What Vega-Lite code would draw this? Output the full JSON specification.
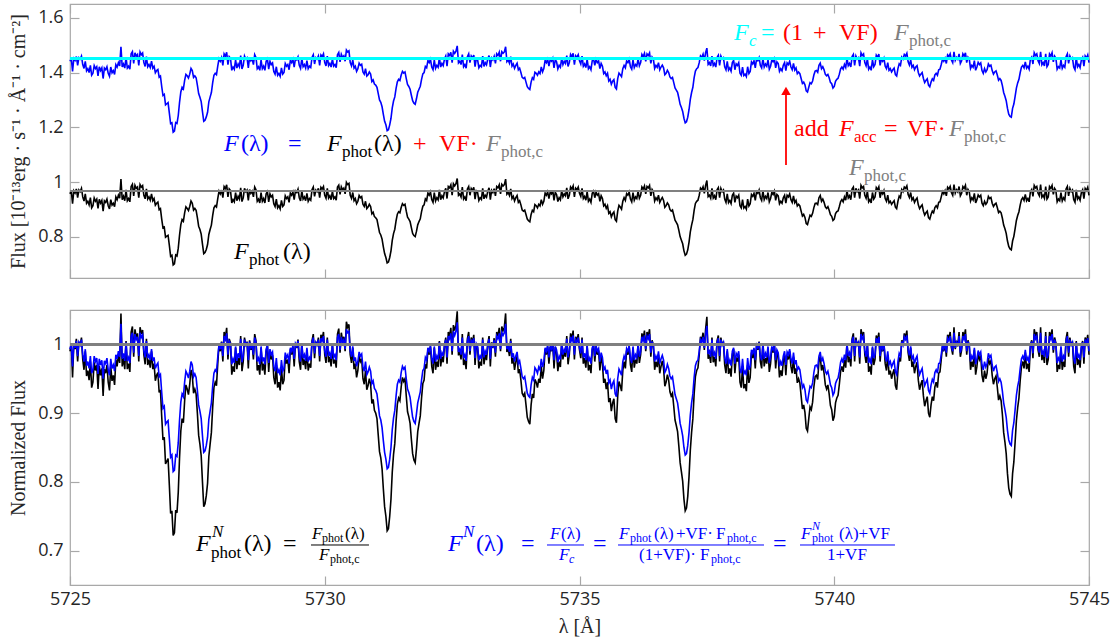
{
  "$schema": "https://vega.github.io/schema/vega-lite/v6.json",
  "padding": {"left": 8, "top": 2, "right": 0, "bottom": 0},
  "background": "white",
  "spacing": 27,
  "config": {
    "view": {"stroke": "#a8a8a8", "strokeWidth": 1.2},
    "axis": {
      "domain": false, "grid": false, "ticks": true, "tickSize": -9, "tickColor": "#a8a8a8", "tickWidth": 1.2,
      "labelFont": "Open Sans", "labelFontSize": 18, "labelColor": "#262626", "labelPadding": 16,
      "labelFlush": false, "labelOverlap": false,
      "titleFont": "Liberation Serif", "titleFontSize": 20, "titleFontWeight": "normal", "titleColor": "#262626"
    }
  },
  "datasets": {
    "spec": [
      {"x":5725,"p":0.957,"f":1.441,"n":0.99,"m":0.993},{"x":5725.025,"p":0.969,"f":1.452,"n":1.002,"m":1.001},{"x":5725.05,"p":0.921,"f":1.404,"n":0.952,"m":0.968},{"x":5725.075,"p":0.968,"f":1.451,"n":1.001,"m":1.001},
      {"x":5725.1,"p":0.96,"f":1.444,"n":0.993,"m":0.995},{"x":5725.125,"p":0.975,"f":1.458,"n":1.008,"m":1.005},{"x":5725.15,"p":0.943,"f":1.426,"n":0.975,"m":0.983},{"x":5725.175,"p":0.971,"f":1.454,"n":1.004,"m":1.003},
      {"x":5725.2,"p":0.965,"f":1.449,"n":0.998,"m":0.999},{"x":5725.225,"p":0.977,"f":1.46,"n":1.01,"m":1.007},{"x":5725.25,"p":0.946,"f":1.429,"n":0.978,"m":0.985},{"x":5725.275,"p":0.931,"f":1.415,"n":0.963,"m":0.975},
      {"x":5725.3,"p":0.957,"f":1.441,"n":0.99,"m":0.993},{"x":5725.325,"p":0.923,"f":1.406,"n":0.954,"m":0.969},{"x":5725.35,"p":0.93,"f":1.414,"n":0.962,"m":0.975},{"x":5725.375,"p":0.917,"f":1.4,"n":0.948,"m":0.965},
      {"x":5725.4,"p":0.943,"f":1.426,"n":0.975,"m":0.983},{"x":5725.425,"p":0.906,"f":1.39,"n":0.937,"m":0.958},{"x":5725.45,"p":0.914,"f":1.397,"n":0.945,"m":0.963},{"x":5725.475,"p":0.942,"f":1.425,"n":0.974,"m":0.983},
      {"x":5725.5,"p":0.93,"f":1.414,"n":0.962,"m":0.975},{"x":5725.525,"p":0.938,"f":1.421,"n":0.97,"m":0.98},{"x":5725.55,"p":0.904,"f":1.388,"n":0.935,"m":0.957},{"x":5725.575,"p":0.937,"f":1.421,"n":0.969,"m":0.979},
      {"x":5725.6,"p":0.923,"f":1.407,"n":0.955,"m":0.97},{"x":5725.625,"p":0.933,"f":1.417,"n":0.965,"m":0.977},{"x":5725.65,"p":0.894,"f":1.378,"n":0.925,"m":0.95},{"x":5725.675,"p":0.932,"f":1.416,"n":0.964,"m":0.976},
      {"x":5725.7,"p":0.926,"f":1.41,"n":0.958,"m":0.972},{"x":5725.725,"p":0.938,"f":1.421,"n":0.97,"m":0.98},{"x":5725.75,"p":0.914,"f":1.397,"n":0.945,"m":0.963},{"x":5725.775,"p":0.902,"f":1.386,"n":0.933,"m":0.955},
      {"x":5725.8,"p":0.936,"f":1.42,"n":0.968,"m":0.979},{"x":5725.825,"p":0.916,"f":1.399,"n":0.947,"m":0.965},{"x":5725.85,"p":0.923,"f":1.407,"n":0.955,"m":0.97},{"x":5725.875,"p":0.91,"f":1.393,"n":0.941,"m":0.961},
      {"x":5725.9,"p":0.946,"f":1.429,"n":0.978,"m":0.985},{"x":5725.925,"p":0.936,"f":1.42,"n":0.968,"m":0.979},{"x":5725.95,"p":0.952,"f":1.436,"n":0.985,"m":0.99},{"x":5725.975,"p":0.941,"f":1.424,"n":0.973,"m":0.982},
      {"x":5726,"p":1.011,"f":1.494,"n":1.045,"m":1.03},{"x":5726.025,"p":0.936,"f":1.42,"n":0.968,"m":0.979},{"x":5726.05,"p":0.948,"f":1.431,"n":0.98,"m":0.987},{"x":5726.075,"p":0.932,"f":1.416,"n":0.964,"m":0.976},
      {"x":5726.1,"p":0.972,"f":1.455,"n":1.005,"m":1.003},{"x":5726.125,"p":0.932,"f":1.416,"n":0.964,"m":0.976},{"x":5726.15,"p":0.94,"f":1.423,"n":0.972,"m":0.981},{"x":5726.175,"p":0.928,"f":1.412,"n":0.96,"m":0.973},
      {"x":5726.2,"p":0.984,"f":1.468,"n":1.018,"m":1.012},{"x":5726.225,"p":0.992,"f":1.476,"n":1.026,"m":1.017},{"x":5726.25,"p":0.95,"f":1.433,"n":0.982,"m":0.988},{"x":5726.275,"p":0.988,"f":1.472,"n":1.022,"m":1.015},
      {"x":5726.3,"p":0.977,"f":1.46,"n":1.01,"m":1.007},{"x":5726.325,"p":0.982,"f":1.466,"n":1.016,"m":1.011},{"x":5726.35,"p":0.943,"f":1.426,"n":0.975,"m":0.983},{"x":5726.375,"p":0.991,"f":1.475,"n":1.025,"m":1.017},
      {"x":5726.4,"p":0.982,"f":1.465,"n":1.015,"m":1.01},{"x":5726.425,"p":0.987,"f":1.471,"n":1.021,"m":1.014},{"x":5726.45,"p":0.952,"f":1.436,"n":0.985,"m":0.99},{"x":5726.475,"p":0.939,"f":1.422,"n":0.971,"m":0.981},
      {"x":5726.5,"p":0.975,"f":1.458,"n":1.008,"m":1.005},{"x":5726.525,"p":0.938,"f":1.421,"n":0.97,"m":0.98},{"x":5726.55,"p":0.946,"f":1.429,"n":0.978,"m":0.985},{"x":5726.575,"p":0.934,"f":1.418,"n":0.966,"m":0.977},
      {"x":5726.6,"p":0.957,"f":1.441,"n":0.99,"m":0.993},{"x":5726.625,"p":0.932,"f":1.416,"n":0.964,"m":0.976},{"x":5726.65,"p":0.94,"f":1.423,"n":0.972,"m":0.981},{"x":5726.675,"p":0.916,"f":1.399,"n":0.947,"m":0.965},
      {"x":5726.7,"p":0.923,"f":1.407,"n":0.955,"m":0.97},{"x":5726.725,"p":0.927,"f":1.411,"n":0.959,"m":0.973},{"x":5726.75,"p":0.899,"f":1.383,"n":0.93,"m":0.953},{"x":5726.775,"p":0.903,"f":1.387,"n":0.934,"m":0.956},
      {"x":5726.8,"p":0.865,"f":1.349,"n":0.895,"m":0.93},{"x":5726.825,"p":0.833,"f":1.316,"n":0.861,"m":0.907},{"x":5726.85,"p":0.836,"f":1.32,"n":0.865,"m":0.91},{"x":5726.875,"p":0.799,"f":1.282,"n":0.826,"m":0.884},
      {"x":5726.9,"p":0.803,"f":1.286,"n":0.83,"m":0.887},{"x":5726.925,"p":0.806,"f":1.29,"n":0.834,"m":0.889},{"x":5726.95,"p":0.769,"f":1.252,"n":0.795,"m":0.863},{"x":5726.975,"p":0.729,"f":1.213,"n":0.754,"m":0.836},
      {"x":5727,"p":0.733,"f":1.216,"n":0.758,"m":0.839},{"x":5727.025,"p":0.698,"f":1.182,"n":0.722,"m":0.815},{"x":5727.05,"p":0.702,"f":1.186,"n":0.726,"m":0.817},{"x":5727.075,"p":0.734,"f":1.217,"n":0.759,"m":0.839},
      {"x":5727.1,"p":0.73,"f":1.214,"n":0.755,"m":0.837},{"x":5727.125,"p":0.759,"f":1.243,"n":0.785,"m":0.857},{"x":5727.15,"p":0.807,"f":1.291,"n":0.835,"m":0.89},{"x":5727.175,"p":0.845,"f":1.329,"n":0.874,"m":0.916},
      {"x":5727.2,"p":0.863,"f":1.346,"n":0.892,"m":0.928},{"x":5727.225,"p":0.857,"f":1.34,"n":0.886,"m":0.924},{"x":5727.25,"p":0.888,"f":1.371,"n":0.918,"m":0.945},{"x":5727.275,"p":0.91,"f":1.393,"n":0.941,"m":0.961},
      {"x":5727.3,"p":0.904,"f":1.388,"n":0.935,"m":0.957},{"x":5727.325,"p":0.896,"f":1.38,"n":0.927,"m":0.951},{"x":5727.35,"p":0.911,"f":1.394,"n":0.942,"m":0.961},{"x":5727.375,"p":0.931,"f":1.415,"n":0.963,"m":0.975},
      {"x":5727.4,"p":0.923,"f":1.407,"n":0.955,"m":0.97},{"x":5727.425,"p":0.898,"f":1.382,"n":0.929,"m":0.953},{"x":5727.45,"p":0.904,"f":1.388,"n":0.935,"m":0.957},{"x":5727.475,"p":0.897,"f":1.381,"n":0.928,"m":0.952},
      {"x":5727.5,"p":0.87,"f":1.354,"n":0.9,"m":0.933},{"x":5727.525,"p":0.839,"f":1.323,"n":0.868,"m":0.912},{"x":5727.55,"p":0.827,"f":1.31,"n":0.855,"m":0.903},{"x":5727.575,"p":0.81,"f":1.294,"n":0.838,"m":0.892},
      {"x":5727.6,"p":0.774,"f":1.257,"n":0.8,"m":0.867},{"x":5727.625,"p":0.739,"f":1.222,"n":0.764,"m":0.843},{"x":5727.65,"p":0.743,"f":1.226,"n":0.768,"m":0.845},{"x":5727.675,"p":0.754,"f":1.238,"n":0.78,"m":0.853},
      {"x":5727.7,"p":0.772,"f":1.255,"n":0.798,"m":0.865},{"x":5727.725,"p":0.809,"f":1.293,"n":0.837,"m":0.891},{"x":5727.75,"p":0.827,"f":1.31,"n":0.855,"m":0.903},{"x":5727.775,"p":0.843,"f":1.327,"n":0.872,"m":0.915},
      {"x":5727.8,"p":0.878,"f":1.362,"n":0.908,"m":0.939},{"x":5727.825,"p":0.906,"f":1.39,"n":0.937,"m":0.958},{"x":5727.85,"p":0.914,"f":1.397,"n":0.945,"m":0.963},{"x":5727.875,"p":0.909,"f":1.392,"n":0.94,"m":0.96},
      {"x":5727.9,"p":0.94,"f":1.423,"n":0.972,"m":0.981},{"x":5727.925,"p":0.967,"f":1.45,"n":1,"m":1},{"x":5727.95,"p":0.957,"f":1.441,"n":0.99,"m":0.993},{"x":5727.975,"p":0.971,"f":1.454,"n":1.004,"m":1.003},
      {"x":5728,"p":0.943,"f":1.426,"n":0.975,"m":0.983},{"x":5728.025,"p":0.984,"f":1.468,"n":1.018,"m":1.012},{"x":5728.05,"p":0.977,"f":1.46,"n":1.01,"m":1.007},{"x":5728.075,"p":0.99,"f":1.474,"n":1.024,"m":1.016},
      {"x":5728.1,"p":0.946,"f":1.429,"n":0.978,"m":0.985},{"x":5728.125,"p":0.975,"f":1.458,"n":1.008,"m":1.005},{"x":5728.15,"p":0.969,"f":1.452,"n":1.002,"m":1.001},{"x":5728.175,"p":0.924,"f":1.408,"n":0.956,"m":0.971},
      {"x":5728.2,"p":0.936,"f":1.42,"n":0.968,"m":0.979},{"x":5728.225,"p":0.928,"f":1.412,"n":0.96,"m":0.973},{"x":5728.25,"p":0.962,"f":1.446,"n":0.995,"m":0.997},{"x":5728.275,"p":0.932,"f":1.416,"n":0.964,"m":0.976},
      {"x":5728.3,"p":0.948,"f":1.431,"n":0.98,"m":0.987},{"x":5728.325,"p":0.938,"f":1.421,"n":0.97,"m":0.98},{"x":5728.35,"p":0.979,"f":1.462,"n":1.012,"m":1.008},{"x":5728.375,"p":0.929,"f":1.413,"n":0.961,"m":0.974},
      {"x":5728.4,"p":0.943,"f":1.426,"n":0.975,"m":0.983},{"x":5728.425,"p":0.977,"f":1.46,"n":1.01,"m":1.007},{"x":5728.45,"p":0.965,"f":1.449,"n":0.998,"m":0.999},{"x":5728.475,"p":0.971,"f":1.454,"n":1.004,"m":1.003},
      {"x":5728.5,"p":0.933,"f":1.417,"n":0.965,"m":0.977},{"x":5728.525,"p":0.973,"f":1.456,"n":1.006,"m":1.004},{"x":5728.55,"p":0.959,"f":1.443,"n":0.992,"m":0.995},{"x":5728.575,"p":0.967,"f":1.45,"n":1,"m":1},
      {"x":5728.6,"p":0.946,"f":1.429,"n":0.978,"m":0.985},{"x":5728.625,"p":0.982,"f":1.465,"n":1.015,"m":1.01},{"x":5728.65,"p":0.972,"f":1.455,"n":1.005,"m":1.003},{"x":5728.675,"p":0.93,"f":1.414,"n":0.962,"m":0.975},
      {"x":5728.7,"p":0.938,"f":1.421,"n":0.97,"m":0.98},{"x":5728.725,"p":0.924,"f":1.408,"n":0.956,"m":0.971},{"x":5728.75,"p":0.962,"f":1.446,"n":0.995,"m":0.997},{"x":5728.775,"p":0.93,"f":1.414,"n":0.962,"m":0.975},
      {"x":5728.8,"p":0.94,"f":1.423,"n":0.972,"m":0.981},{"x":5728.825,"p":0.924,"f":1.408,"n":0.956,"m":0.971},{"x":5728.85,"p":0.957,"f":1.441,"n":0.99,"m":0.993},{"x":5728.875,"p":0.965,"f":1.449,"n":0.998,"m":0.999},
      {"x":5728.9,"p":0.928,"f":1.412,"n":0.96,"m":0.973},{"x":5728.925,"p":0.957,"f":1.441,"n":0.99,"m":0.993},{"x":5728.95,"p":0.946,"f":1.429,"n":0.978,"m":0.985},{"x":5728.975,"p":0.952,"f":1.435,"n":0.984,"m":0.989},
      {"x":5729,"p":0.921,"f":1.404,"n":0.952,"m":0.968},{"x":5729.025,"p":0.911,"f":1.394,"n":0.942,"m":0.961},{"x":5729.05,"p":0.938,"f":1.421,"n":0.97,"m":0.98},{"x":5729.075,"p":0.906,"f":1.39,"n":0.937,"m":0.958},
      {"x":5729.1,"p":0.914,"f":1.397,"n":0.945,"m":0.963},{"x":5729.125,"p":0.902,"f":1.386,"n":0.933,"m":0.955},{"x":5729.15,"p":0.933,"f":1.417,"n":0.965,"m":0.977},{"x":5729.175,"p":0.911,"f":1.394,"n":0.942,"m":0.961},
      {"x":5729.2,"p":0.917,"f":1.4,"n":0.948,"m":0.965},{"x":5729.225,"p":0.95,"f":1.433,"n":0.982,"m":0.988},{"x":5729.25,"p":0.94,"f":1.423,"n":0.972,"m":0.981},{"x":5729.275,"p":0.946,"f":1.429,"n":0.978,"m":0.985},
      {"x":5729.3,"p":0.926,"f":1.41,"n":0.958,"m":0.972},{"x":5729.325,"p":0.96,"f":1.444,"n":0.993,"m":0.995},{"x":5729.35,"p":0.952,"f":1.436,"n":0.985,"m":0.99},{"x":5729.375,"p":0.964,"f":1.448,"n":0.997,"m":0.998},
      {"x":5729.4,"p":0.936,"f":1.42,"n":0.968,"m":0.979},{"x":5729.425,"p":0.968,"f":1.451,"n":1.001,"m":1.001},{"x":5729.45,"p":0.962,"f":1.446,"n":0.995,"m":0.997},{"x":5729.475,"p":0.974,"f":1.457,"n":1.007,"m":1.005},
      {"x":5729.5,"p":0.943,"f":1.426,"n":0.975,"m":0.983},{"x":5729.525,"p":0.931,"f":1.415,"n":0.963,"m":0.975},{"x":5729.55,"p":0.969,"f":1.452,"n":1.002,"m":1.001},{"x":5729.575,"p":0.938,"f":1.421,"n":0.97,"m":0.98},
      {"x":5729.6,"p":0.946,"f":1.429,"n":0.978,"m":0.985},{"x":5729.625,"p":0.932,"f":1.416,"n":0.964,"m":0.976},{"x":5729.65,"p":0.959,"f":1.443,"n":0.992,"m":0.995},{"x":5729.675,"p":0.93,"f":1.414,"n":0.962,"m":0.975},
      {"x":5729.7,"p":0.94,"f":1.423,"n":0.972,"m":0.981},{"x":5729.725,"p":0.934,"f":1.418,"n":0.966,"m":0.977},{"x":5729.75,"p":0.972,"f":1.455,"n":1.005,"m":1.003},{"x":5729.775,"p":0.982,"f":1.465,"n":1.015,"m":1.01},
      {"x":5729.8,"p":0.948,"f":1.431,"n":0.98,"m":0.987},{"x":5729.825,"p":0.971,"f":1.454,"n":1.004,"m":1.003},{"x":5729.85,"p":0.965,"f":1.449,"n":0.998,"m":0.999},{"x":5729.875,"p":0.977,"f":1.46,"n":1.01,"m":1.007},
      {"x":5729.9,"p":0.943,"f":1.426,"n":0.975,"m":0.983},{"x":5729.925,"p":0.981,"f":1.464,"n":1.014,"m":1.009},{"x":5729.95,"p":0.975,"f":1.458,"n":1.008,"m":1.005},{"x":5729.975,"p":0.984,"f":1.468,"n":1.018,"m":1.012},
      {"x":5730,"p":0.952,"f":1.436,"n":0.985,"m":0.99},{"x":5730.025,"p":0.941,"f":1.424,"n":0.973,"m":0.982},{"x":5730.05,"p":0.977,"f":1.46,"n":1.01,"m":1.007},{"x":5730.075,"p":0.942,"f":1.425,"n":0.974,"m":0.983},
      {"x":5730.1,"p":0.95,"f":1.433,"n":0.982,"m":0.988},{"x":5730.125,"p":0.936,"f":1.42,"n":0.968,"m":0.979},{"x":5730.15,"p":0.967,"f":1.45,"n":1,"m":1},{"x":5730.175,"p":0.94,"f":1.423,"n":0.972,"m":0.981},
      {"x":5730.2,"p":0.946,"f":1.429,"n":0.978,"m":0.985},{"x":5730.225,"p":0.934,"f":1.418,"n":0.966,"m":0.977},{"x":5730.25,"p":0.982,"f":1.465,"n":1.015,"m":1.01},{"x":5730.275,"p":0.989,"f":1.473,"n":1.023,"m":1.015},
      {"x":5730.3,"p":0.955,"f":1.439,"n":0.988,"m":0.992},{"x":5730.325,"p":0.983,"f":1.467,"n":1.017,"m":1.011},{"x":5730.35,"p":0.972,"f":1.455,"n":1.005,"m":1.003},{"x":5730.375,"p":0.978,"f":1.461,"n":1.011,"m":1.007},
      {"x":5730.4,"p":0.957,"f":1.441,"n":0.99,"m":0.993},{"x":5730.425,"p":0.999,"f":1.482,"n":1.033,"m":1.022},{"x":5730.45,"p":0.991,"f":1.475,"n":1.025,"m":1.017},{"x":5730.475,"p":0.995,"f":1.479,"n":1.029,"m":1.019},
      {"x":5730.5,"p":0.952,"f":1.436,"n":0.985,"m":0.99},{"x":5730.525,"p":0.941,"f":1.424,"n":0.973,"m":0.982},{"x":5730.55,"p":0.962,"f":1.446,"n":0.995,"m":0.997},{"x":5730.575,"p":0.932,"f":1.416,"n":0.964,"m":0.976},
      {"x":5730.6,"p":0.94,"f":1.423,"n":0.972,"m":0.981},{"x":5730.625,"p":0.921,"f":1.404,"n":0.952,"m":0.968},{"x":5730.65,"p":0.93,"f":1.414,"n":0.962,"m":0.975},{"x":5730.675,"p":0.951,"f":1.434,"n":0.983,"m":0.989},
      {"x":5730.7,"p":0.943,"f":1.426,"n":0.975,"m":0.983},{"x":5730.725,"p":0.947,"f":1.43,"n":0.979,"m":0.986},{"x":5730.75,"p":0.919,"f":1.402,"n":0.95,"m":0.967},{"x":5730.775,"p":0.911,"f":1.394,"n":0.942,"m":0.961},
      {"x":5730.8,"p":0.93,"f":1.414,"n":0.962,"m":0.975},{"x":5730.825,"p":0.903,"f":1.387,"n":0.934,"m":0.956},{"x":5730.85,"p":0.909,"f":1.392,"n":0.94,"m":0.96},{"x":5730.875,"p":0.919,"f":1.402,"n":0.95,"m":0.967},
      {"x":5730.9,"p":0.911,"f":1.394,"n":0.942,"m":0.961},{"x":5730.925,"p":0.884,"f":1.367,"n":0.914,"m":0.943},{"x":5730.95,"p":0.89,"f":1.373,"n":0.92,"m":0.947},{"x":5730.975,"p":0.874,"f":1.358,"n":0.904,"m":0.936},
      {"x":5731,"p":0.87,"f":1.354,"n":0.9,"m":0.933},{"x":5731.025,"p":0.863,"f":1.346,"n":0.892,"m":0.928},{"x":5731.05,"p":0.839,"f":1.323,"n":0.868,"m":0.912},{"x":5731.075,"p":0.816,"f":1.3,"n":0.844,"m":0.896},
      {"x":5731.1,"p":0.807,"f":1.291,"n":0.835,"m":0.89},{"x":5731.125,"p":0.792,"f":1.275,"n":0.819,"m":0.879},{"x":5731.15,"p":0.764,"f":1.247,"n":0.79,"m":0.86},{"x":5731.175,"p":0.739,"f":1.222,"n":0.764,"m":0.843},
      {"x":5731.2,"p":0.725,"f":1.209,"n":0.75,"m":0.833},{"x":5731.225,"p":0.705,"f":1.188,"n":0.729,"m":0.819},{"x":5731.25,"p":0.708,"f":1.191,"n":0.732,"m":0.821},{"x":5731.275,"p":0.725,"f":1.209,"n":0.75,"m":0.833},
      {"x":5731.3,"p":0.749,"f":1.233,"n":0.775,"m":0.85},{"x":5731.325,"p":0.787,"f":1.271,"n":0.814,"m":0.876},{"x":5731.35,"p":0.812,"f":1.296,"n":0.84,"m":0.893},{"x":5731.375,"p":0.828,"f":1.311,"n":0.856,"m":0.904},
      {"x":5731.4,"p":0.859,"f":1.342,"n":0.888,"m":0.925},{"x":5731.425,"p":0.883,"f":1.366,"n":0.913,"m":0.942},{"x":5731.45,"p":0.892,"f":1.375,"n":0.922,"m":0.948},{"x":5731.475,"p":0.888,"f":1.371,"n":0.918,"m":0.945},
      {"x":5731.5,"p":0.907,"f":1.391,"n":0.938,"m":0.959},{"x":5731.525,"p":0.921,"f":1.404,"n":0.952,"m":0.968},{"x":5731.55,"p":0.915,"f":1.398,"n":0.946,"m":0.964},{"x":5731.575,"p":0.919,"f":1.402,"n":0.95,"m":0.967},
      {"x":5731.6,"p":0.894,"f":1.378,"n":0.925,"m":0.95},{"x":5731.625,"p":0.872,"f":1.356,"n":0.902,"m":0.935},{"x":5731.65,"p":0.865,"f":1.349,"n":0.895,"m":0.93},{"x":5731.675,"p":0.856,"f":1.339,"n":0.885,"m":0.923},
      {"x":5731.7,"p":0.834,"f":1.317,"n":0.862,"m":0.908},{"x":5731.725,"p":0.813,"f":1.297,"n":0.841,"m":0.894},{"x":5731.75,"p":0.805,"f":1.288,"n":0.832,"m":0.888},{"x":5731.775,"p":0.801,"f":1.284,"n":0.828,"m":0.885},
      {"x":5731.8,"p":0.82,"f":1.304,"n":0.848,"m":0.899},{"x":5731.825,"p":0.844,"f":1.328,"n":0.873,"m":0.915},{"x":5731.85,"p":0.856,"f":1.339,"n":0.885,"m":0.923},{"x":5731.875,"p":0.866,"f":1.35,"n":0.896,"m":0.931},
      {"x":5731.9,"p":0.892,"f":1.375,"n":0.922,"m":0.948},{"x":5731.925,"p":0.912,"f":1.395,"n":0.943,"m":0.962},{"x":5731.95,"p":0.917,"f":1.4,"n":0.948,"m":0.965},{"x":5731.975,"p":0.939,"f":1.422,"n":0.971,"m":0.981},
      {"x":5732,"p":0.933,"f":1.417,"n":0.965,"m":0.977},{"x":5732.025,"p":0.96,"f":1.444,"n":0.993,"m":0.995},{"x":5732.05,"p":0.952,"f":1.436,"n":0.985,"m":0.99},{"x":5732.075,"p":0.964,"f":1.448,"n":0.997,"m":0.998},
      {"x":5732.1,"p":0.936,"f":1.42,"n":0.968,"m":0.979},{"x":5732.125,"p":0.926,"f":1.41,"n":0.958,"m":0.972},{"x":5732.15,"p":0.962,"f":1.446,"n":0.995,"m":0.997},{"x":5732.175,"p":0.931,"f":1.415,"n":0.963,"m":0.975},
      {"x":5732.2,"p":0.943,"f":1.426,"n":0.975,"m":0.983},{"x":5732.225,"p":0.935,"f":1.419,"n":0.967,"m":0.978},{"x":5732.25,"p":0.972,"f":1.455,"n":1.005,"m":1.003},{"x":5732.275,"p":0.936,"f":1.42,"n":0.968,"m":0.979},
      {"x":5732.3,"p":0.95,"f":1.433,"n":0.982,"m":0.988},{"x":5732.325,"p":0.942,"f":1.425,"n":0.974,"m":0.983},{"x":5732.35,"p":0.965,"f":1.449,"n":0.998,"m":0.999},{"x":5732.375,"p":0.977,"f":1.46,"n":1.01,"m":1.007},
      {"x":5732.4,"p":0.94,"f":1.423,"n":0.972,"m":0.981},{"x":5732.425,"p":0.984,"f":1.468,"n":1.018,"m":1.012},{"x":5732.45,"p":0.979,"f":1.462,"n":1.012,"m":1.008},{"x":5732.475,"p":0.99,"f":1.474,"n":1.024,"m":1.016},
      {"x":5732.5,"p":0.952,"f":1.436,"n":0.985,"m":0.99},{"x":5732.525,"p":0.994,"f":1.478,"n":1.028,"m":1.019},{"x":5732.55,"p":0.986,"f":1.47,"n":1.02,"m":1.013},{"x":5732.575,"p":0.994,"f":1.478,"n":1.028,"m":1.019},
      {"x":5732.6,"p":1.013,"f":1.497,"n":1.048,"m":1.032},{"x":5732.625,"p":0.952,"f":1.435,"n":0.984,"m":0.989},{"x":5732.65,"p":0.957,"f":1.441,"n":0.99,"m":0.993},{"x":5732.675,"p":0.946,"f":1.429,"n":0.978,"m":0.985},
      {"x":5732.7,"p":0.982,"f":1.465,"n":1.015,"m":1.01},{"x":5732.725,"p":0.938,"f":1.421,"n":0.97,"m":0.98},{"x":5732.75,"p":0.946,"f":1.429,"n":0.978,"m":0.985},{"x":5732.775,"p":0.932,"f":1.416,"n":0.964,"m":0.976},
      {"x":5732.8,"p":0.975,"f":1.458,"n":1.008,"m":1.005},{"x":5732.825,"p":0.984,"f":1.468,"n":1.018,"m":1.012},{"x":5732.85,"p":0.952,"f":1.436,"n":0.985,"m":0.99},{"x":5732.875,"p":0.977,"f":1.46,"n":1.01,"m":1.007},
      {"x":5732.9,"p":0.969,"f":1.452,"n":1.002,"m":1.001},{"x":5732.925,"p":0.981,"f":1.464,"n":1.014,"m":1.009},{"x":5732.95,"p":0.938,"f":1.421,"n":0.97,"m":0.98},{"x":5732.975,"p":0.968,"f":1.451,"n":1.001,"m":1.001},
      {"x":5733,"p":0.962,"f":1.446,"n":0.995,"m":0.997},{"x":5733.025,"p":0.933,"f":1.417,"n":0.965,"m":0.977},{"x":5733.05,"p":0.943,"f":1.426,"n":0.975,"m":0.983},{"x":5733.075,"p":0.937,"f":1.421,"n":0.969,"m":0.979},
      {"x":5733.1,"p":0.977,"f":1.46,"n":1.01,"m":1.007},{"x":5733.125,"p":0.939,"f":1.422,"n":0.971,"m":0.981},{"x":5733.15,"p":0.952,"f":1.436,"n":0.985,"m":0.99},{"x":5733.175,"p":0.945,"f":1.428,"n":0.977,"m":0.985},
      {"x":5733.2,"p":0.967,"f":1.45,"n":1,"m":1},{"x":5733.225,"p":0.979,"f":1.462,"n":1.012,"m":1.008},{"x":5733.25,"p":0.936,"f":1.42,"n":0.968,"m":0.979},{"x":5733.275,"p":0.97,"f":1.453,"n":1.003,"m":1.002},
      {"x":5733.3,"p":0.962,"f":1.446,"n":0.995,"m":0.997},{"x":5733.325,"p":0.976,"f":1.459,"n":1.009,"m":1.006},{"x":5733.35,"p":0.95,"f":1.433,"n":0.982,"m":0.988},{"x":5733.375,"p":0.984,"f":1.468,"n":1.018,"m":1.012},
      {"x":5733.4,"p":0.979,"f":1.462,"n":1.012,"m":1.008},{"x":5733.425,"p":0.99,"f":1.474,"n":1.024,"m":1.016},{"x":5733.45,"p":0.957,"f":1.441,"n":0.99,"m":0.993},{"x":5733.475,"p":0.992,"f":1.476,"n":1.026,"m":1.017},
      {"x":5733.5,"p":0.986,"f":1.47,"n":1.02,"m":1.013},{"x":5733.525,"p":0.991,"f":1.475,"n":1.025,"m":1.017},{"x":5733.55,"p":1.011,"f":1.494,"n":1.045,"m":1.03},{"x":5733.575,"p":0.956,"f":1.44,"n":0.989,"m":0.993},
      {"x":5733.6,"p":0.962,"f":1.446,"n":0.995,"m":0.997},{"x":5733.625,"p":0.951,"f":1.434,"n":0.983,"m":0.989},{"x":5733.65,"p":0.975,"f":1.458,"n":1.008,"m":1.005},{"x":5733.675,"p":0.94,"f":1.423,"n":0.972,"m":0.981},
      {"x":5733.7,"p":0.948,"f":1.431,"n":0.98,"m":0.987},{"x":5733.725,"p":0.931,"f":1.415,"n":0.963,"m":0.975},{"x":5733.75,"p":0.943,"f":1.426,"n":0.975,"m":0.983},{"x":5733.775,"p":0.951,"f":1.434,"n":0.983,"m":0.989},
      {"x":5733.8,"p":0.926,"f":1.41,"n":0.958,"m":0.972},{"x":5733.825,"p":0.932,"f":1.416,"n":0.964,"m":0.976},{"x":5733.85,"p":0.917,"f":1.4,"n":0.948,"m":0.965},{"x":5733.875,"p":0.898,"f":1.382,"n":0.929,"m":0.953},
      {"x":5733.9,"p":0.894,"f":1.378,"n":0.925,"m":0.95},{"x":5733.925,"p":0.898,"f":1.382,"n":0.929,"m":0.953},{"x":5733.95,"p":0.882,"f":1.365,"n":0.912,"m":0.941},{"x":5733.975,"p":0.865,"f":1.348,"n":0.894,"m":0.929},
      {"x":5734,"p":0.859,"f":1.342,"n":0.888,"m":0.925},{"x":5734.025,"p":0.855,"f":1.338,"n":0.884,"m":0.923},{"x":5734.05,"p":0.882,"f":1.365,"n":0.912,"m":0.941},{"x":5734.075,"p":0.897,"f":1.381,"n":0.928,"m":0.952},
      {"x":5734.1,"p":0.892,"f":1.375,"n":0.922,"m":0.948},{"x":5734.125,"p":0.918,"f":1.401,"n":0.949,"m":0.966},{"x":5734.15,"p":0.914,"f":1.397,"n":0.945,"m":0.963},{"x":5734.175,"p":0.906,"f":1.39,"n":0.937,"m":0.958},
      {"x":5734.2,"p":0.919,"f":1.402,"n":0.95,"m":0.967},{"x":5734.225,"p":0.913,"f":1.396,"n":0.944,"m":0.963},{"x":5734.25,"p":0.936,"f":1.42,"n":0.968,"m":0.979},{"x":5734.275,"p":0.919,"f":1.402,"n":0.95,"m":0.967},
      {"x":5734.3,"p":0.93,"f":1.414,"n":0.962,"m":0.975},{"x":5734.325,"p":0.96,"f":1.444,"n":0.993,"m":0.995},{"x":5734.35,"p":0.952,"f":1.436,"n":0.985,"m":0.99},{"x":5734.375,"p":0.964,"f":1.448,"n":0.997,"m":0.998},
      {"x":5734.4,"p":0.94,"f":1.423,"n":0.972,"m":0.981},{"x":5734.425,"p":0.963,"f":1.447,"n":0.996,"m":0.997},{"x":5734.45,"p":0.957,"f":1.441,"n":0.99,"m":0.993},{"x":5734.475,"p":0.969,"f":1.452,"n":1.002,"m":1.001},
      {"x":5734.5,"p":0.933,"f":1.417,"n":0.965,"m":0.977},{"x":5734.525,"p":0.963,"f":1.447,"n":0.996,"m":0.997},{"x":5734.55,"p":0.955,"f":1.439,"n":0.988,"m":0.992},{"x":5734.575,"p":0.929,"f":1.413,"n":0.961,"m":0.974},
      {"x":5734.6,"p":0.943,"f":1.426,"n":0.975,"m":0.983},{"x":5734.625,"p":0.935,"f":1.419,"n":0.967,"m":0.978},{"x":5734.65,"p":0.969,"f":1.452,"n":1.002,"m":1.001},{"x":5734.675,"p":0.946,"f":1.429,"n":0.978,"m":0.985},
      {"x":5734.7,"p":0.957,"f":1.441,"n":0.99,"m":0.993},{"x":5734.725,"p":0.95,"f":1.433,"n":0.982,"m":0.988},{"x":5734.75,"p":0.979,"f":1.462,"n":1.012,"m":1.008},{"x":5734.775,"p":0.939,"f":1.422,"n":0.971,"m":0.981},
      {"x":5734.8,"p":0.952,"f":1.436,"n":0.985,"m":0.99},{"x":5734.825,"p":0.982,"f":1.466,"n":1.016,"m":1.011},{"x":5734.85,"p":0.975,"f":1.458,"n":1.008,"m":1.005},{"x":5734.875,"p":0.986,"f":1.47,"n":1.02,"m":1.013},
      {"x":5734.9,"p":0.946,"f":1.429,"n":0.978,"m":0.985},{"x":5734.925,"p":0.978,"f":1.461,"n":1.011,"m":1.007},{"x":5734.95,"p":0.972,"f":1.455,"n":1.005,"m":1.003},{"x":5734.975,"p":0.982,"f":1.465,"n":1.015,"m":1.01},
      {"x":5735,"p":0.959,"f":1.443,"n":0.992,"m":0.995},{"x":5735.025,"p":0.948,"f":1.431,"n":0.98,"m":0.987},{"x":5735.05,"p":0.977,"f":1.46,"n":1.01,"m":1.007},{"x":5735.075,"p":0.94,"f":1.423,"n":0.972,"m":0.981},
      {"x":5735.1,"p":0.948,"f":1.431,"n":0.98,"m":0.987},{"x":5735.125,"p":0.934,"f":1.418,"n":0.966,"m":0.977},{"x":5735.15,"p":0.965,"f":1.449,"n":0.998,"m":0.999},{"x":5735.175,"p":0.93,"f":1.414,"n":0.962,"m":0.975},
      {"x":5735.2,"p":0.938,"f":1.421,"n":0.97,"m":0.98},{"x":5735.225,"p":0.926,"f":1.41,"n":0.958,"m":0.972},{"x":5735.25,"p":0.959,"f":1.443,"n":0.992,"m":0.995},{"x":5735.275,"p":0.967,"f":1.45,"n":1,"m":1},
      {"x":5735.3,"p":0.943,"f":1.426,"n":0.975,"m":0.983},{"x":5735.325,"p":0.964,"f":1.448,"n":0.997,"m":0.998},{"x":5735.35,"p":0.952,"f":1.436,"n":0.985,"m":0.99},{"x":5735.375,"p":0.958,"f":1.442,"n":0.991,"m":0.994},
      {"x":5735.4,"p":0.93,"f":1.414,"n":0.962,"m":0.975},{"x":5735.425,"p":0.95,"f":1.433,"n":0.982,"m":0.988},{"x":5735.45,"p":0.94,"f":1.423,"n":0.972,"m":0.981},{"x":5735.475,"p":0.913,"f":1.396,"n":0.944,"m":0.963},
      {"x":5735.5,"p":0.919,"f":1.402,"n":0.95,"m":0.967},{"x":5735.525,"p":0.904,"f":1.388,"n":0.935,"m":0.957},{"x":5735.55,"p":0.914,"f":1.397,"n":0.945,"m":0.963},{"x":5735.575,"p":0.886,"f":1.369,"n":0.916,"m":0.944},
      {"x":5735.6,"p":0.892,"f":1.375,"n":0.922,"m":0.948},{"x":5735.625,"p":0.873,"f":1.357,"n":0.903,"m":0.935},{"x":5735.65,"p":0.885,"f":1.368,"n":0.915,"m":0.943},{"x":5735.675,"p":0.891,"f":1.374,"n":0.921,"m":0.947},
      {"x":5735.7,"p":0.863,"f":1.346,"n":0.892,"m":0.928},{"x":5735.725,"p":0.857,"f":1.34,"n":0.886,"m":0.924},{"x":5735.75,"p":0.894,"f":1.378,"n":0.925,"m":0.95},{"x":5735.775,"p":0.915,"f":1.398,"n":0.946,"m":0.964},
      {"x":5735.8,"p":0.909,"f":1.392,"n":0.94,"m":0.96},{"x":5735.825,"p":0.901,"f":1.385,"n":0.932,"m":0.955},{"x":5735.85,"p":0.93,"f":1.414,"n":0.962,"m":0.975},{"x":5735.875,"p":0.943,"f":1.426,"n":0.975,"m":0.983},
      {"x":5735.9,"p":0.933,"f":1.417,"n":0.965,"m":0.977},{"x":5735.925,"p":0.958,"f":1.442,"n":0.991,"m":0.994},{"x":5735.95,"p":0.952,"f":1.436,"n":0.985,"m":0.99},{"x":5735.975,"p":0.964,"f":1.448,"n":0.997,"m":0.998},
      {"x":5736,"p":0.938,"f":1.421,"n":0.97,"m":0.98},{"x":5736.025,"p":0.928,"f":1.412,"n":0.96,"m":0.973},{"x":5736.05,"p":0.962,"f":1.446,"n":0.995,"m":0.997},{"x":5736.075,"p":0.934,"f":1.418,"n":0.966,"m":0.977},
      {"x":5736.1,"p":0.946,"f":1.429,"n":0.978,"m":0.985},{"x":5736.125,"p":0.94,"f":1.423,"n":0.972,"m":0.981},{"x":5736.15,"p":0.967,"f":1.45,"n":1,"m":1},{"x":5736.175,"p":0.941,"f":1.424,"n":0.973,"m":0.982},
      {"x":5736.2,"p":0.952,"f":1.436,"n":0.985,"m":0.99},{"x":5736.225,"p":0.982,"f":1.466,"n":1.016,"m":1.011},{"x":5736.25,"p":0.975,"f":1.458,"n":1.008,"m":1.005},{"x":5736.275,"p":0.986,"f":1.47,"n":1.02,"m":1.013},
      {"x":5736.3,"p":0.957,"f":1.441,"n":0.99,"m":0.993},{"x":5736.325,"p":0.984,"f":1.468,"n":1.018,"m":1.012},{"x":5736.35,"p":0.979,"f":1.462,"n":1.012,"m":1.008},{"x":5736.375,"p":0.988,"f":1.472,"n":1.022,"m":1.015},
      {"x":5736.4,"p":0.95,"f":1.433,"n":0.982,"m":0.988},{"x":5736.425,"p":0.973,"f":1.456,"n":1.006,"m":1.004},{"x":5736.45,"p":0.965,"f":1.449,"n":0.998,"m":0.999},{"x":5736.475,"p":0.931,"f":1.415,"n":0.963,"m":0.975},
      {"x":5736.5,"p":0.943,"f":1.426,"n":0.975,"m":0.983},{"x":5736.525,"p":0.935,"f":1.419,"n":0.967,"m":0.978},{"x":5736.55,"p":0.952,"f":1.436,"n":0.985,"m":0.99},{"x":5736.575,"p":0.926,"f":1.41,"n":0.958,"m":0.972},
      {"x":5736.6,"p":0.936,"f":1.42,"n":0.968,"m":0.979},{"x":5736.625,"p":0.944,"f":1.427,"n":0.976,"m":0.984},{"x":5736.65,"p":0.933,"f":1.417,"n":0.965,"m":0.977},{"x":5736.675,"p":0.908,"f":1.392,"n":0.939,"m":0.959},
      {"x":5736.7,"p":0.914,"f":1.397,"n":0.945,"m":0.963},{"x":5736.725,"p":0.924,"f":1.408,"n":0.956,"m":0.971},{"x":5736.75,"p":0.917,"f":1.4,"n":0.948,"m":0.965},{"x":5736.775,"p":0.9,"f":1.384,"n":0.931,"m":0.954},
      {"x":5736.8,"p":0.894,"f":1.378,"n":0.925,"m":0.95},{"x":5736.825,"p":0.898,"f":1.382,"n":0.929,"m":0.953},{"x":5736.85,"p":0.88,"f":1.363,"n":0.91,"m":0.94},{"x":5736.875,"p":0.861,"f":1.344,"n":0.89,"m":0.927},
      {"x":5736.9,"p":0.853,"f":1.336,"n":0.882,"m":0.921},{"x":5736.925,"p":0.844,"f":1.328,"n":0.873,"m":0.915},{"x":5736.95,"p":0.824,"f":1.307,"n":0.852,"m":0.901},{"x":5736.975,"p":0.801,"f":1.284,"n":0.828,"m":0.885},
      {"x":5737,"p":0.788,"f":1.272,"n":0.815,"m":0.877},{"x":5737.025,"p":0.775,"f":1.258,"n":0.801,"m":0.867},{"x":5737.05,"p":0.749,"f":1.233,"n":0.775,"m":0.85},{"x":5737.075,"p":0.733,"f":1.216,"n":0.758,"m":0.839},
      {"x":5737.1,"p":0.737,"f":1.22,"n":0.762,"m":0.841},{"x":5737.125,"p":0.753,"f":1.237,"n":0.779,"m":0.853},{"x":5737.15,"p":0.781,"f":1.265,"n":0.808,"m":0.872},{"x":5737.175,"p":0.818,"f":1.302,"n":0.846,"m":0.897},
      {"x":5737.2,"p":0.843,"f":1.327,"n":0.872,"m":0.915},{"x":5737.225,"p":0.863,"f":1.346,"n":0.892,"m":0.928},{"x":5737.25,"p":0.897,"f":1.381,"n":0.928,"m":0.952},{"x":5737.275,"p":0.922,"f":1.405,"n":0.953,"m":0.969},
      {"x":5737.3,"p":0.93,"f":1.414,"n":0.962,"m":0.975},{"x":5737.325,"p":0.934,"f":1.418,"n":0.966,"m":0.977},{"x":5737.35,"p":0.952,"f":1.436,"n":0.985,"m":0.99},{"x":5737.375,"p":0.978,"f":1.461,"n":1.011,"m":1.007},
      {"x":5737.4,"p":0.972,"f":1.455,"n":1.005,"m":1.003},{"x":5737.425,"p":0.983,"f":1.467,"n":1.017,"m":1.011},{"x":5737.45,"p":0.959,"f":1.443,"n":0.992,"m":0.995},{"x":5737.475,"p":0.988,"f":1.472,"n":1.022,"m":1.015},
      {"x":5737.5,"p":1.006,"f":1.489,"n":1.04,"m":1.027},{"x":5737.525,"p":0.947,"f":1.43,"n":0.979,"m":0.986},{"x":5737.55,"p":0.952,"f":1.436,"n":0.985,"m":0.99},{"x":5737.575,"p":0.941,"f":1.424,"n":0.973,"m":0.982},
      {"x":5737.6,"p":0.977,"f":1.46,"n":1.01,"m":1.007},{"x":5737.625,"p":0.942,"f":1.425,"n":0.974,"m":0.983},{"x":5737.65,"p":0.95,"f":1.433,"n":0.982,"m":0.988},{"x":5737.675,"p":0.936,"f":1.42,"n":0.968,"m":0.979},
      {"x":5737.7,"p":0.972,"f":1.455,"n":1.005,"m":1.003},{"x":5737.725,"p":0.98,"f":1.463,"n":1.013,"m":1.009},{"x":5737.75,"p":0.943,"f":1.426,"n":0.975,"m":0.983},{"x":5737.775,"p":0.977,"f":1.46,"n":1.01,"m":1.007},
      {"x":5737.8,"p":0.965,"f":1.449,"n":0.998,"m":0.999},{"x":5737.825,"p":0.971,"f":1.454,"n":1.004,"m":1.003},{"x":5737.85,"p":0.938,"f":1.421,"n":0.97,"m":0.98},{"x":5737.875,"p":0.926,"f":1.41,"n":0.958,"m":0.972},
      {"x":5737.9,"p":0.957,"f":1.441,"n":0.99,"m":0.993},{"x":5737.925,"p":0.925,"f":1.409,"n":0.957,"m":0.971},{"x":5737.95,"p":0.933,"f":1.417,"n":0.965,"m":0.977},{"x":5737.975,"p":0.922,"f":1.405,"n":0.953,"m":0.969},
      {"x":5738,"p":0.952,"f":1.436,"n":0.985,"m":0.99},{"x":5738.025,"p":0.96,"f":1.444,"n":0.993,"m":0.995},{"x":5738.05,"p":0.926,"f":1.41,"n":0.958,"m":0.972},{"x":5738.075,"p":0.949,"f":1.432,"n":0.981,"m":0.987},
      {"x":5738.1,"p":0.943,"f":1.426,"n":0.975,"m":0.983},{"x":5738.125,"p":0.952,"f":1.436,"n":0.985,"m":0.99},{"x":5738.15,"p":0.914,"f":1.397,"n":0.945,"m":0.963},{"x":5738.175,"p":0.906,"f":1.39,"n":0.937,"m":0.958},
      {"x":5738.2,"p":0.936,"f":1.42,"n":0.968,"m":0.979},{"x":5738.225,"p":0.905,"f":1.389,"n":0.936,"m":0.957},{"x":5738.25,"p":0.911,"f":1.394,"n":0.942,"m":0.961},{"x":5738.275,"p":0.901,"f":1.385,"n":0.932,"m":0.955},
      {"x":5738.3,"p":0.938,"f":1.421,"n":0.97,"m":0.98},{"x":5738.325,"p":0.913,"f":1.396,"n":0.944,"m":0.963},{"x":5738.35,"p":0.921,"f":1.404,"n":0.952,"m":0.968},{"x":5738.375,"p":0.955,"f":1.439,"n":0.988,"m":0.992},
      {"x":5738.4,"p":0.948,"f":1.431,"n":0.98,"m":0.987},{"x":5738.425,"p":0.959,"f":1.443,"n":0.992,"m":0.995},{"x":5738.45,"p":0.933,"f":1.417,"n":0.965,"m":0.977},{"x":5738.475,"p":0.965,"f":1.449,"n":0.998,"m":0.999},
      {"x":5738.5,"p":0.959,"f":1.443,"n":0.992,"m":0.995},{"x":5738.525,"p":0.971,"f":1.454,"n":1.004,"m":1.003},{"x":5738.55,"p":0.943,"f":1.426,"n":0.975,"m":0.983},{"x":5738.575,"p":0.933,"f":1.417,"n":0.965,"m":0.977},
      {"x":5738.6,"p":0.969,"f":1.452,"n":1.002,"m":1.001},{"x":5738.625,"p":0.936,"f":1.42,"n":0.968,"m":0.979},{"x":5738.65,"p":0.948,"f":1.431,"n":0.98,"m":0.987},{"x":5738.675,"p":0.94,"f":1.423,"n":0.972,"m":0.981},
      {"x":5738.7,"p":0.962,"f":1.446,"n":0.995,"m":0.997},{"x":5738.725,"p":0.928,"f":1.412,"n":0.96,"m":0.973},{"x":5738.75,"p":0.94,"f":1.423,"n":0.972,"m":0.981},{"x":5738.775,"p":0.963,"f":1.447,"n":0.996,"m":0.997},
      {"x":5738.8,"p":0.955,"f":1.439,"n":0.988,"m":0.992},{"x":5738.825,"p":0.967,"f":1.45,"n":1,"m":1},{"x":5738.85,"p":0.933,"f":1.417,"n":0.965,"m":0.977},{"x":5738.875,"p":0.955,"f":1.439,"n":0.988,"m":0.992},
      {"x":5738.9,"p":0.95,"f":1.433,"n":0.982,"m":0.988},{"x":5738.925,"p":0.921,"f":1.404,"n":0.952,"m":0.968},{"x":5738.95,"p":0.93,"f":1.414,"n":0.962,"m":0.975},{"x":5738.975,"p":0.923,"f":1.406,"n":0.954,"m":0.969},
      {"x":5739,"p":0.943,"f":1.426,"n":0.975,"m":0.983},{"x":5739.025,"p":0.952,"f":1.436,"n":0.985,"m":0.99},{"x":5739.05,"p":0.923,"f":1.407,"n":0.955,"m":0.97},{"x":5739.075,"p":0.952,"f":1.435,"n":0.984,"m":0.989},
      {"x":5739.1,"p":0.946,"f":1.429,"n":0.978,"m":0.985},{"x":5739.125,"p":0.957,"f":1.441,"n":0.99,"m":0.993},{"x":5739.15,"p":0.936,"f":1.42,"n":0.968,"m":0.979},{"x":5739.175,"p":0.926,"f":1.41,"n":0.958,"m":0.972},
      {"x":5739.2,"p":0.95,"f":1.433,"n":0.982,"m":0.988},{"x":5739.225,"p":0.925,"f":1.409,"n":0.957,"m":0.971},{"x":5739.25,"p":0.933,"f":1.417,"n":0.965,"m":0.977},{"x":5739.275,"p":0.913,"f":1.396,"n":0.944,"m":0.963},
      {"x":5739.3,"p":0.919,"f":1.402,"n":0.95,"m":0.967},{"x":5739.325,"p":0.913,"f":1.396,"n":0.944,"m":0.963},{"x":5739.35,"p":0.894,"f":1.378,"n":0.925,"m":0.95},{"x":5739.375,"p":0.876,"f":1.36,"n":0.906,"m":0.937},
      {"x":5739.4,"p":0.882,"f":1.365,"n":0.912,"m":0.941},{"x":5739.425,"p":0.871,"f":1.355,"n":0.901,"m":0.934},{"x":5739.45,"p":0.849,"f":1.333,"n":0.878,"m":0.919},{"x":5739.475,"p":0.845,"f":1.329,"n":0.874,"m":0.916},
      {"x":5739.5,"p":0.863,"f":1.346,"n":0.892,"m":0.928},{"x":5739.525,"p":0.879,"f":1.363,"n":0.909,"m":0.939},{"x":5739.55,"p":0.875,"f":1.359,"n":0.905,"m":0.937},{"x":5739.575,"p":0.886,"f":1.369,"n":0.916,"m":0.944},
      {"x":5739.6,"p":0.907,"f":1.391,"n":0.938,"m":0.959},{"x":5739.625,"p":0.922,"f":1.405,"n":0.953,"m":0.969},{"x":5739.65,"p":0.923,"f":1.407,"n":0.955,"m":0.97},{"x":5739.675,"p":0.918,"f":1.401,"n":0.949,"m":0.966},
      {"x":5739.7,"p":0.943,"f":1.426,"n":0.975,"m":0.983},{"x":5739.725,"p":0.951,"f":1.434,"n":0.983,"m":0.989},{"x":5739.75,"p":0.93,"f":1.414,"n":0.962,"m":0.975},{"x":5739.775,"p":0.938,"f":1.421,"n":0.97,"m":0.98},
      {"x":5739.8,"p":0.926,"f":1.41,"n":0.958,"m":0.972},{"x":5739.825,"p":0.91,"f":1.393,"n":0.941,"m":0.961},{"x":5739.85,"p":0.904,"f":1.388,"n":0.935,"m":0.957},{"x":5739.875,"p":0.91,"f":1.393,"n":0.941,"m":0.961},
      {"x":5739.9,"p":0.897,"f":1.381,"n":0.928,"m":0.952},{"x":5739.925,"p":0.881,"f":1.364,"n":0.911,"m":0.941},{"x":5739.95,"p":0.875,"f":1.359,"n":0.905,"m":0.937},{"x":5739.975,"p":0.86,"f":1.343,"n":0.889,"m":0.926},
      {"x":5740,"p":0.865,"f":1.349,"n":0.895,"m":0.93},{"x":5740.025,"p":0.885,"f":1.368,"n":0.915,"m":0.943},{"x":5740.05,"p":0.892,"f":1.375,"n":0.922,"m":0.948},{"x":5740.075,"p":0.895,"f":1.379,"n":0.926,"m":0.951},
      {"x":5740.1,"p":0.911,"f":1.394,"n":0.942,"m":0.961},{"x":5740.125,"p":0.929,"f":1.413,"n":0.961,"m":0.974},{"x":5740.15,"p":0.936,"f":1.42,"n":0.968,"m":0.979},{"x":5740.175,"p":0.928,"f":1.412,"n":0.96,"m":0.973},
      {"x":5740.2,"p":0.946,"f":1.429,"n":0.978,"m":0.985},{"x":5740.225,"p":0.934,"f":1.418,"n":0.966,"m":0.977},{"x":5740.25,"p":0.969,"f":1.452,"n":1.002,"m":1.001},{"x":5740.275,"p":0.942,"f":1.425,"n":0.974,"m":0.983},
      {"x":5740.3,"p":0.95,"f":1.433,"n":0.982,"m":0.988},{"x":5740.325,"p":0.936,"f":1.42,"n":0.968,"m":0.979},{"x":5740.35,"p":0.975,"f":1.458,"n":1.008,"m":1.005},{"x":5740.375,"p":0.982,"f":1.466,"n":1.016,"m":1.011},
      {"x":5740.4,"p":0.943,"f":1.426,"n":0.975,"m":0.983},{"x":5740.425,"p":0.977,"f":1.46,"n":1.01,"m":1.007},{"x":5740.45,"p":0.965,"f":1.449,"n":0.998,"m":0.999},{"x":5740.475,"p":0.971,"f":1.454,"n":1.004,"m":1.003},
      {"x":5740.5,"p":0.94,"f":1.423,"n":0.972,"m":0.981},{"x":5740.525,"p":0.988,"f":1.472,"n":1.022,"m":1.015},{"x":5740.55,"p":0.979,"f":1.462,"n":1.012,"m":1.008},{"x":5740.575,"p":0.984,"f":1.468,"n":1.018,"m":1.012},
      {"x":5740.6,"p":0.952,"f":1.436,"n":0.985,"m":0.99},{"x":5740.625,"p":0.941,"f":1.424,"n":0.973,"m":0.982},{"x":5740.65,"p":0.967,"f":1.45,"n":1,"m":1},{"x":5740.675,"p":0.928,"f":1.412,"n":0.96,"m":0.973},
      {"x":5740.7,"p":0.936,"f":1.42,"n":0.968,"m":0.979},{"x":5740.725,"p":0.924,"f":1.408,"n":0.956,"m":0.971},{"x":5740.75,"p":0.962,"f":1.446,"n":0.995,"m":0.997},{"x":5740.775,"p":0.938,"f":1.421,"n":0.97,"m":0.98},
      {"x":5740.8,"p":0.946,"f":1.429,"n":0.978,"m":0.985},{"x":5740.825,"p":0.98,"f":1.463,"n":1.013,"m":1.009},{"x":5740.85,"p":0.972,"f":1.455,"n":1.005,"m":1.003},{"x":5740.875,"p":0.983,"f":1.467,"n":1.017,"m":1.011},
      {"x":5740.9,"p":0.943,"f":1.426,"n":0.975,"m":0.983},{"x":5740.925,"p":0.965,"f":1.449,"n":0.998,"m":0.999},{"x":5740.95,"p":0.957,"f":1.441,"n":0.99,"m":0.993},{"x":5740.975,"p":0.969,"f":1.452,"n":1.002,"m":1.001},
      {"x":5741,"p":0.94,"f":1.423,"n":0.972,"m":0.981},{"x":5741.025,"p":0.93,"f":1.414,"n":0.962,"m":0.975},{"x":5741.05,"p":0.952,"f":1.436,"n":0.985,"m":0.99},{"x":5741.075,"p":0.924,"f":1.408,"n":0.956,"m":0.971},
      {"x":5741.1,"p":0.93,"f":1.414,"n":0.962,"m":0.975},{"x":5741.125,"p":0.919,"f":1.402,"n":0.95,"m":0.967},{"x":5741.15,"p":0.926,"f":1.41,"n":0.958,"m":0.972},{"x":5741.175,"p":0.932,"f":1.416,"n":0.964,"m":0.976},
      {"x":5741.2,"p":0.909,"f":1.392,"n":0.94,"m":0.96},{"x":5741.225,"p":0.903,"f":1.387,"n":0.934,"m":0.956},{"x":5741.25,"p":0.93,"f":1.414,"n":0.962,"m":0.975},{"x":5741.275,"p":0.949,"f":1.432,"n":0.981,"m":0.987},
      {"x":5741.3,"p":0.943,"f":1.426,"n":0.975,"m":0.983},{"x":5741.325,"p":0.973,"f":1.456,"n":1.006,"m":1.004},{"x":5741.35,"p":0.965,"f":1.449,"n":0.998,"m":0.999},{"x":5741.375,"p":0.982,"f":1.466,"n":1.016,"m":1.011},
      {"x":5741.4,"p":0.977,"f":1.46,"n":1.01,"m":1.007},{"x":5741.425,"p":0.986,"f":1.47,"n":1.02,"m":1.013},{"x":5741.45,"p":0.955,"f":1.439,"n":0.988,"m":0.992},{"x":5741.475,"p":0.944,"f":1.427,"n":0.976,"m":0.984},
      {"x":5741.5,"p":0.962,"f":1.446,"n":0.995,"m":0.997},{"x":5741.525,"p":0.935,"f":1.419,"n":0.967,"m":0.978},{"x":5741.55,"p":0.943,"f":1.426,"n":0.975,"m":0.983},{"x":5741.575,"p":0.926,"f":1.41,"n":0.958,"m":0.972},
      {"x":5741.6,"p":0.936,"f":1.42,"n":0.968,"m":0.979},{"x":5741.625,"p":0.942,"f":1.425,"n":0.974,"m":0.983},{"x":5741.65,"p":0.917,"f":1.4,"n":0.948,"m":0.965},{"x":5741.675,"p":0.903,"f":1.387,"n":0.934,"m":0.956},
      {"x":5741.7,"p":0.911,"f":1.394,"n":0.942,"m":0.961},{"x":5741.725,"p":0.917,"f":1.4,"n":0.948,"m":0.965},{"x":5741.75,"p":0.894,"f":1.378,"n":0.925,"m":0.95},{"x":5741.775,"p":0.88,"f":1.363,"n":0.91,"m":0.94},
      {"x":5741.8,"p":0.888,"f":1.371,"n":0.918,"m":0.945},{"x":5741.825,"p":0.894,"f":1.377,"n":0.924,"m":0.949},{"x":5741.85,"p":0.87,"f":1.354,"n":0.9,"m":0.933},{"x":5741.875,"p":0.865,"f":1.348,"n":0.894,"m":0.929},
      {"x":5741.9,"p":0.882,"f":1.365,"n":0.912,"m":0.941},{"x":5741.925,"p":0.894,"f":1.377,"n":0.924,"m":0.949},{"x":5741.95,"p":0.888,"f":1.371,"n":0.918,"m":0.945},{"x":5741.975,"p":0.907,"f":1.391,"n":0.938,"m":0.959},
      {"x":5742,"p":0.914,"f":1.397,"n":0.945,"m":0.963},{"x":5742.025,"p":0.906,"f":1.39,"n":0.937,"m":0.958},{"x":5742.05,"p":0.926,"f":1.41,"n":0.958,"m":0.972},{"x":5742.075,"p":0.928,"f":1.412,"n":0.96,"m":0.973},
      {"x":5742.1,"p":0.946,"f":1.429,"n":0.978,"m":0.985},{"x":5742.125,"p":0.965,"f":1.449,"n":0.998,"m":0.999},{"x":5742.15,"p":0.957,"f":1.441,"n":0.99,"m":0.993},{"x":5742.175,"p":0.969,"f":1.452,"n":1.002,"m":1.001},
      {"x":5742.2,"p":0.95,"f":1.433,"n":0.982,"m":0.988},{"x":5742.225,"p":0.981,"f":1.464,"n":1.014,"m":1.009},{"x":5742.25,"p":0.975,"f":1.458,"n":1.008,"m":1.005},{"x":5742.275,"p":0.984,"f":1.468,"n":1.018,"m":1.012},
      {"x":5742.3,"p":0.962,"f":1.446,"n":0.995,"m":0.997},{"x":5742.325,"p":0.952,"f":1.436,"n":0.985,"m":0.99},{"x":5742.35,"p":0.991,"f":1.475,"n":1.025,"m":1.017},{"x":5742.375,"p":0.96,"f":1.444,"n":0.993,"m":0.995},
      {"x":5742.4,"p":0.972,"f":1.455,"n":1.005,"m":1.003},{"x":5742.425,"p":0.964,"f":1.448,"n":0.997,"m":0.998},{"x":5742.45,"p":0.984,"f":1.468,"n":1.018,"m":1.012},{"x":5742.475,"p":0.95,"f":1.433,"n":0.982,"m":0.988},
      {"x":5742.5,"p":0.959,"f":1.443,"n":0.992,"m":0.995},{"x":5742.525,"p":0.984,"f":1.468,"n":1.018,"m":1.012},{"x":5742.55,"p":0.977,"f":1.46,"n":1.01,"m":1.007},{"x":5742.575,"p":0.988,"f":1.472,"n":1.022,"m":1.015},
      {"x":5742.6,"p":0.952,"f":1.436,"n":0.985,"m":0.99},{"x":5742.625,"p":0.973,"f":1.456,"n":1.006,"m":1.004},{"x":5742.65,"p":0.965,"f":1.449,"n":0.998,"m":0.999},{"x":5742.675,"p":0.931,"f":1.415,"n":0.963,"m":0.975},
      {"x":5742.7,"p":0.943,"f":1.426,"n":0.975,"m":0.983},{"x":5742.725,"p":0.935,"f":1.419,"n":0.967,"m":0.978},{"x":5742.75,"p":0.959,"f":1.443,"n":0.992,"m":0.995},{"x":5742.775,"p":0.924,"f":1.408,"n":0.956,"m":0.971},
      {"x":5742.8,"p":0.936,"f":1.42,"n":0.968,"m":0.979},{"x":5742.825,"p":0.953,"f":1.437,"n":0.986,"m":0.991},{"x":5742.85,"p":0.946,"f":1.429,"n":0.978,"m":0.985},{"x":5742.875,"p":0.952,"f":1.435,"n":0.984,"m":0.989},
      {"x":5742.9,"p":0.923,"f":1.407,"n":0.955,"m":0.97},{"x":5742.925,"p":0.914,"f":1.397,"n":0.945,"m":0.963},{"x":5742.95,"p":0.93,"f":1.414,"n":0.962,"m":0.975},{"x":5742.975,"p":0.919,"f":1.402,"n":0.95,"m":0.967},
      {"x":5743,"p":0.926,"f":1.41,"n":0.958,"m":0.972},{"x":5743.025,"p":0.948,"f":1.431,"n":0.98,"m":0.987},{"x":5743.05,"p":0.94,"f":1.423,"n":0.972,"m":0.981},{"x":5743.075,"p":0.944,"f":1.427,"n":0.976,"m":0.984},
      {"x":5743.1,"p":0.923,"f":1.407,"n":0.955,"m":0.97},{"x":5743.125,"p":0.911,"f":1.394,"n":0.942,"m":0.961},{"x":5743.15,"p":0.919,"f":1.402,"n":0.95,"m":0.967},{"x":5743.175,"p":0.923,"f":1.406,"n":0.954,"m":0.969},
      {"x":5743.2,"p":0.907,"f":1.391,"n":0.938,"m":0.959},{"x":5743.225,"p":0.889,"f":1.372,"n":0.919,"m":0.946},{"x":5743.25,"p":0.894,"f":1.378,"n":0.925,"m":0.95},{"x":5743.275,"p":0.888,"f":1.371,"n":0.918,"m":0.945},
      {"x":5743.3,"p":0.868,"f":1.352,"n":0.898,"m":0.932},{"x":5743.325,"p":0.843,"f":1.327,"n":0.872,"m":0.915},{"x":5743.35,"p":0.83,"f":1.313,"n":0.858,"m":0.905},{"x":5743.375,"p":0.813,"f":1.297,"n":0.841,"m":0.894},
      {"x":5743.4,"p":0.785,"f":1.269,"n":0.812,"m":0.875},{"x":5743.425,"p":0.765,"f":1.248,"n":0.791,"m":0.861},{"x":5743.45,"p":0.756,"f":1.24,"n":0.782,"m":0.855},{"x":5743.475,"p":0.753,"f":1.237,"n":0.779,"m":0.853},
      {"x":5743.5,"p":0.785,"f":1.269,"n":0.812,"m":0.875},{"x":5743.525,"p":0.802,"f":1.285,"n":0.829,"m":0.886},{"x":5743.55,"p":0.83,"f":1.313,"n":0.858,"m":0.905},{"x":5743.575,"p":0.86,"f":1.343,"n":0.889,"m":0.926},
      {"x":5743.6,"p":0.878,"f":1.362,"n":0.908,"m":0.939},{"x":5743.625,"p":0.892,"f":1.375,"n":0.922,"m":0.948},{"x":5743.65,"p":0.917,"f":1.4,"n":0.948,"m":0.965},{"x":5743.675,"p":0.936,"f":1.42,"n":0.968,"m":0.979},
      {"x":5743.7,"p":0.943,"f":1.426,"n":0.975,"m":0.983},{"x":5743.725,"p":0.933,"f":1.417,"n":0.965,"m":0.977},{"x":5743.75,"p":0.955,"f":1.439,"n":0.988,"m":0.992},{"x":5743.775,"p":0.932,"f":1.416,"n":0.964,"m":0.976},
      {"x":5743.8,"p":0.94,"f":1.423,"n":0.972,"m":0.981},{"x":5743.825,"p":0.928,"f":1.412,"n":0.96,"m":0.973},{"x":5743.85,"p":0.965,"f":1.449,"n":0.998,"m":0.999},{"x":5743.875,"p":0.973,"f":1.456,"n":1.006,"m":1.004},
      {"x":5743.9,"p":0.948,"f":1.431,"n":0.98,"m":0.987},{"x":5743.925,"p":0.988,"f":1.472,"n":1.022,"m":1.015},{"x":5743.95,"p":0.979,"f":1.462,"n":1.012,"m":1.008},{"x":5743.975,"p":0.984,"f":1.468,"n":1.018,"m":1.012},
      {"x":5744,"p":0.959,"f":1.443,"n":0.992,"m":0.995},{"x":5744.025,"p":0.95,"f":1.433,"n":0.982,"m":0.988},{"x":5744.05,"p":0.991,"f":1.475,"n":1.025,"m":1.017},{"x":5744.075,"p":0.945,"f":1.428,"n":0.977,"m":0.985},
      {"x":5744.1,"p":0.952,"f":1.436,"n":0.985,"m":0.99},{"x":5744.125,"p":0.941,"f":1.424,"n":0.973,"m":0.982},{"x":5744.15,"p":0.984,"f":1.468,"n":1.018,"m":1.012},{"x":5744.175,"p":0.938,"f":1.421,"n":0.97,"m":0.98},
      {"x":5744.2,"p":0.946,"f":1.429,"n":0.978,"m":0.985},{"x":5744.225,"p":0.984,"f":1.468,"n":1.018,"m":1.012},{"x":5744.25,"p":0.977,"f":1.46,"n":1.01,"m":1.007},{"x":5744.275,"p":0.988,"f":1.472,"n":1.022,"m":1.015},
      {"x":5744.3,"p":0.955,"f":1.439,"n":0.988,"m":0.992},{"x":5744.325,"p":0.977,"f":1.46,"n":1.01,"m":1.007},{"x":5744.35,"p":0.969,"f":1.452,"n":1.002,"m":1.001},{"x":5744.375,"p":0.928,"f":1.412,"n":0.96,"m":0.973},
      {"x":5744.4,"p":0.938,"f":1.421,"n":0.97,"m":0.98},{"x":5744.425,"p":0.932,"f":1.416,"n":0.964,"m":0.976},{"x":5744.45,"p":0.962,"f":1.446,"n":0.995,"m":0.997},{"x":5744.475,"p":0.931,"f":1.415,"n":0.963,"m":0.975},
      {"x":5744.5,"p":0.943,"f":1.426,"n":0.975,"m":0.983},{"x":5744.525,"p":0.935,"f":1.419,"n":0.967,"m":0.978},{"x":5744.55,"p":0.975,"f":1.458,"n":1.008,"m":1.005},{"x":5744.575,"p":0.984,"f":1.468,"n":1.018,"m":1.012},
      {"x":5744.6,"p":0.95,"f":1.433,"n":0.982,"m":0.988},{"x":5744.625,"p":0.977,"f":1.46,"n":1.01,"m":1.007},{"x":5744.65,"p":0.965,"f":1.449,"n":0.998,"m":0.999},{"x":5744.675,"p":0.971,"f":1.454,"n":1.004,"m":1.003},
      {"x":5744.7,"p":0.936,"f":1.42,"n":0.968,"m":0.979},{"x":5744.725,"p":0.926,"f":1.41,"n":0.958,"m":0.972},{"x":5744.75,"p":0.972,"f":1.455,"n":1.005,"m":1.003},{"x":5744.775,"p":0.938,"f":1.421,"n":0.97,"m":0.98},
      {"x":5744.8,"p":0.946,"f":1.429,"n":0.978,"m":0.985},{"x":5744.825,"p":0.934,"f":1.418,"n":0.966,"m":0.977},{"x":5744.85,"p":0.962,"f":1.446,"n":0.995,"m":0.997},{"x":5744.875,"p":0.972,"f":1.455,"n":1.005,"m":1.003},
      {"x":5744.9,"p":0.94,"f":1.423,"n":0.972,"m":0.981},{"x":5744.925,"p":0.977,"f":1.46,"n":1.01,"m":1.007},{"x":5744.95,"p":0.969,"f":1.452,"n":1.002,"m":1.001},{"x":5744.975,"p":0.981,"f":1.464,"n":1.014,"m":1.009},
      {"x":5745,"p":0.952,"f":1.436,"n":0.985,"m":0.99}
    ],
    "topItalic": [
      {"x":5728.023,"y":1.1135,"t":"F","c":"F"},{"x":5730.044,"y":1.1135,"t":"F","c":"Fphot"},{"x":5733.165,"y":1.1135,"t":"F","c":"cont"},
      {"x":5728.219,"y":0.7193,"t":"F","c":"Fphot"},{"x":5738.032,"y":1.5186,"t":"F","c":"Fc"},{"x":5741.173,"y":1.5186,"t":"F","c":"cont"},
      {"x":5740.093,"y":1.1682,"t":"F","c":"acc"},{"x":5742.252,"y":1.1682,"t":"F","c":"cont"},{"x":5740.29,"y":1.0259,"t":"F","c":"cont"}
    ],
    "topRoman": [
      {"x":5728.356,"y":1.1135,"t":"(λ)","c":"F"},{"x":5729.279,"y":1.1135,"t":"=","c":"F"},{"x":5730.967,"y":1.1135,"t":"(λ)","c":"Fphot"},
      {"x":5731.732,"y":1.1135,"t":"+","c":"acc"},{"x":5732.242,"y":1.1135,"t":"VF·","c":"acc"},{"x":5729.181,"y":0.7193,"t":"(λ)","c":"Fphot"},
      {"x":5738.562,"y":1.5186,"t":"=","c":"Fc"},{"x":5738.994,"y":1.5186,"t":"(1","c":"acc"},{"x":5739.583,"y":1.5186,"t":"+","c":"acc"},
      {"x":5740.093,"y":1.5186,"t":"VF)","c":"acc"},{"x":5739.21,"y":1.1682,"t":"add","c":"acc"},{"x":5740.976,"y":1.1682,"t":"=","c":"acc"},
      {"x":5741.428,"y":1.1682,"t":"VF·","c":"acc"}
    ],
    "topSub": [
      {"x":5730.339,"y":1.0916,"t":"phot","c":"Fphot"},{"x":5733.459,"y":1.0916,"t":"phot,c","c":"cont"},{"x":5728.513,"y":0.6974,"t":"phot","c":"Fphot"},
      {"x":5741.467,"y":1.4967,"t":"phot,c","c":"cont"},{"x":5740.388,"y":1.1464,"t":"acc","c":"acc"},{"x":5742.547,"y":1.1464,"t":"phot,c","c":"cont"},
      {"x":5740.584,"y":1.004,"t":"phot,c","c":"cont"}
    ],
    "topSubItalic": [{"x":5738.327,"y":1.4967,"t":"c","c":"Fc"}],
    "arrow": [{"x":5739.053,"y0":1.0624,"y1":1.333}],
    "botItalic": [
      {"x":5732.419,"y":0.6995,"t":"F","c":"F"},{"x":5727.473,"y":0.6995,"t":"F","c":"Fphot"}
    ],
    "botRoman": [
      {"x":5732.969,"y":0.6995,"t":"(λ)","c":"F"},{"x":5733.852,"y":0.6995,"t":"=","c":"F"},{"x":5735.265,"y":0.6995,"t":"=","c":"F"},
      {"x":5738.798,"y":0.6995,"t":"=","c":"F"},{"x":5728.415,"y":0.6995,"t":"(λ)","c":"Fphot"},{"x":5729.181,"y":0.6995,"t":"=","c":"Fphot"}
    ],
    "botSmallItalic": [
      {"x":5732.713,"y":0.7198,"t":"N","c":"F"},{"x":5727.787,"y":0.7198,"t":"N","c":"Fphot"},{"x":5734.421,"y":0.7169,"t":"F","c":"F"},
      {"x":5734.598,"y":0.6864,"t":"F","c":"F"},{"x":5735.775,"y":0.7169,"t":"F","c":"F"},{"x":5739.347,"y":0.7169,"t":"F","c":"F"},
      {"x":5729.75,"y":0.7169,"t":"F","c":"Fphot"},{"x":5729.887,"y":0.6864,"t":"F","c":"Fphot"}
    ],
    "botSmallRoman": [
      {"x":5727.767,"y":0.6893,"t":"phot","c":"Fphot"},{"x":5734.637,"y":0.7169,"t":"(λ)","c":"F"},{"x":5736.462,"y":0.7169,"t":"(λ)","c":"F"},
      {"x":5736.894,"y":0.7169,"t":"+VF·","c":"F"},{"x":5737.679,"y":0.7169,"t":"F","c":"F"},{"x":5736.168,"y":0.6864,"t":"(1+VF)·","c":"F"},
      {"x":5737.365,"y":0.6864,"t":"F","c":"F"},{"x":5740.093,"y":0.7169,"t":"(λ)+VF","c":"F"},{"x":5739.858,"y":0.6864,"t":"1+VF","c":"F"},
      {"x":5730.397,"y":0.7169,"t":"(λ)","c":"Fphot"}
    ],
    "botTinyItalic": [
      {"x":5734.794,"y":0.682,"t":"c","c":"F"},{"x":5739.563,"y":0.73,"t":"N","c":"F"}
    ],
    "botTinyRoman": [
      {"x":5735.991,"y":0.7125,"t":"phot","c":"F"},{"x":5737.895,"y":0.7125,"t":"phot,c","c":"F"},{"x":5737.581,"y":0.682,"t":"phot,c","c":"F"},
      {"x":5739.563,"y":0.7125,"t":"phot","c":"F"},{"x":5729.946,"y":0.7125,"t":"phot","c":"Fphot"},{"x":5730.103,"y":0.682,"t":"phot,c","c":"Fphot"}
    ],
    "fractionBars": [
      {"x":5729.73,"x2":5730.868,"y":0.7082,"c":"Fphot"},{"x":5734.362,"x2":5735.088,"y":0.7082,"c":"F"},
      {"x":5735.756,"x2":5738.621,"y":0.7082,"c":"F"},{"x":5739.328,"x2":5741.192,"y":0.7082,"c":"F"}
    ]
  },
  "vconcat": [
    {
      "width": 1019,
      "height": 274,
      "data": {"name": "spec"},
      "resolve": {"axis": {"x": "independent", "y": "independent"}},
      "layer": [
        {
          "mark": {"type": "line", "color": "#0000ff", "strokeWidth": 1.6},
          "encoding": {
            "x": {"field": "x", "type": "quantitative", "scale": {"domain": [5725, 5745], "nice": false, "zero": false},
                  "axis": {"orient": "bottom", "values": [5725, 5730, 5735, 5740, 5745], "labels": false, "title": null}},
            "y": {"field": "f", "type": "quantitative", "scale": {"domain": [0.65, 1.65], "nice": false, "zero": false},
                  "axis": {"orient": "left", "values": [0.8, 1, 1.2, 1.4, 1.6], "format": ".1~f", "titlePadding": 9,
                           "title": "Flux [10⁻¹³erg · s⁻¹ · Å⁻¹ · cm⁻²]"}}
          }
        },
        {
          "mark": {"type": "line", "color": "#000000", "strokeWidth": 1.6},
          "encoding": {
            "x": {"field": "x", "type": "quantitative", "axis": null},
            "y": {"field": "p", "type": "quantitative", "axis": null}
          }
        },
        {
          "mark": {"type": "rule", "color": "#00ffff", "strokeWidth": 2},
          "encoding": {"y": {"datum": 1.4505, "type": "quantitative", "axis": null}}
        },
        {
          "mark": {"type": "rule", "color": "#808080", "strokeWidth": 1.5},
          "encoding": {"y": {"datum": 0.967, "type": "quantitative", "axis": null}}
        },
        {
          "data": {"name": "arrow"},
          "mark": {"type": "rule", "color": "#ff0000", "strokeWidth": 1.8},
          "encoding": {
            "x": {"field": "x", "type": "quantitative",
                  "axis": {"orient": "top", "values": [5725, 5730, 5735, 5740, 5745], "labels": false, "title": null}},
            "y": {"field": "y0", "type": "quantitative",
                  "axis": {"orient": "right", "values": [0.8, 1, 1.2, 1.4, 1.6], "labels": false, "title": null}},
            "y2": {"field": "y1"}
          }
        },
        {
          "data": {"name": "arrow"},
          "mark": {"type": "point", "shape": "triangle-up", "filled": true, "color": "#ff0000", "size": 90, "opacity": 1},
          "encoding": {
            "x": {"field": "x", "type": "quantitative", "axis": null},
            "y": {"field": "y1", "type": "quantitative", "axis": null}
          }
        },
        {
          "data": {"name": "topItalic"},
          "mark": {"type": "text", "font": "Liberation Serif", "fontStyle": "italic", "fontSize": 24, "align": "left", "baseline": "alphabetic"},
          "encoding": {
            "x": {"field": "x", "type": "quantitative", "axis": null},
            "y": {"field": "y", "type": "quantitative", "axis": null},
            "text": {"field": "t"},
            "color": {"field": "c", "type": "nominal", "legend": null,
                      "scale": {"domain": ["F", "Fphot", "acc", "cont", "Fc"], "range": ["#0000ff", "#000000", "#ff0000", "#808080", "#00ffff"]}}
          }
        },
        {
          "data": {"name": "topRoman"},
          "mark": {"type": "text", "font": "Liberation Serif", "fontSize": 24, "align": "left", "baseline": "alphabetic"},
          "encoding": {
            "x": {"field": "x", "type": "quantitative", "axis": null},
            "y": {"field": "y", "type": "quantitative", "axis": null},
            "text": {"field": "t"},
            "color": {"field": "c", "type": "nominal", "legend": null,
                      "scale": {"domain": ["F", "Fphot", "acc", "cont", "Fc"], "range": ["#0000ff", "#000000", "#ff0000", "#808080", "#00ffff"]}}
          }
        },
        {
          "data": {"name": "topSub"},
          "mark": {"type": "text", "font": "Liberation Serif", "fontSize": 17, "align": "left", "baseline": "alphabetic"},
          "encoding": {
            "x": {"field": "x", "type": "quantitative", "axis": null},
            "y": {"field": "y", "type": "quantitative", "axis": null},
            "text": {"field": "t"},
            "color": {"field": "c", "type": "nominal", "legend": null,
                      "scale": {"domain": ["F", "Fphot", "acc", "cont", "Fc"], "range": ["#0000ff", "#000000", "#ff0000", "#808080", "#00ffff"]}}
          }
        },
        {
          "data": {"name": "topSubItalic"},
          "mark": {"type": "text", "font": "Liberation Serif", "fontStyle": "italic", "fontSize": 17, "align": "left", "baseline": "alphabetic"},
          "encoding": {
            "x": {"field": "x", "type": "quantitative", "axis": null},
            "y": {"field": "y", "type": "quantitative", "axis": null},
            "text": {"field": "t"},
            "color": {"field": "c", "type": "nominal", "legend": null,
                      "scale": {"domain": ["F", "Fphot", "acc", "cont", "Fc"], "range": ["#0000ff", "#000000", "#ff0000", "#808080", "#00ffff"]}}
          }
        }
      ]
    },
    {
      "width": 1019,
      "height": 275,
      "data": {"name": "spec"},
      "resolve": {"axis": {"x": "independent", "y": "independent"}},
      "layer": [
        {
          "mark": {"type": "line", "color": "#000000", "strokeWidth": 1.6},
          "encoding": {
            "x": {"field": "x", "type": "quantitative", "scale": {"domain": [5725, 5745], "nice": false, "zero": false},
                  "axis": {"orient": "bottom", "values": [5725, 5730, 5735, 5740, 5745], "format": "d", "labelPadding": 14,
                           "title": "λ [Å]", "titlePadding": 8}},
            "y": {"field": "n", "type": "quantitative", "scale": {"domain": [0.65, 1.05], "nice": false, "zero": false},
                  "axis": {"orient": "left", "values": [0.7, 0.8, 0.9, 1], "format": ".1~f", "titlePadding": 9,
                           "title": "Normalized Flux"}}
          }
        },
        {
          "mark": {"type": "line", "color": "#0000ff", "strokeWidth": 1.6},
          "encoding": {
            "x": {"field": "x", "type": "quantitative", "axis": null},
            "y": {"field": "m", "type": "quantitative", "axis": null}
          }
        },
        {
          "mark": {"type": "rule", "color": "#808080", "strokeWidth": 1.5},
          "encoding": {"y": {"datum": 1, "type": "quantitative", "axis": null}}
        },
        {
          "data": {"name": "fractionBars"},
          "mark": {"type": "rule", "strokeWidth": 1},
          "encoding": {
            "x": {"field": "x", "type": "quantitative",
                  "axis": {"orient": "top", "values": [5725, 5730, 5735, 5740, 5745], "labels": false, "title": null}},
            "x2": {"field": "x2"},
            "y": {"field": "y", "type": "quantitative",
                  "axis": {"orient": "right", "values": [0.7, 0.8, 0.9, 1], "labels": false, "title": null}},
            "color": {"field": "c", "type": "nominal", "legend": null,
                      "scale": {"domain": ["F", "Fphot", "acc", "cont", "Fc"], "range": ["#0000ff", "#000000", "#ff0000", "#808080", "#00ffff"]}}
          }
        },
        {
          "data": {"name": "botItalic"},
          "mark": {"type": "text", "font": "Liberation Serif", "fontStyle": "italic", "fontSize": 24, "align": "left", "baseline": "alphabetic"},
          "encoding": {
            "x": {"field": "x", "type": "quantitative", "axis": null},
            "y": {"field": "y", "type": "quantitative", "axis": null},
            "text": {"field": "t"},
            "color": {"field": "c", "type": "nominal", "legend": null,
                      "scale": {"domain": ["F", "Fphot", "acc", "cont", "Fc"], "range": ["#0000ff", "#000000", "#ff0000", "#808080", "#00ffff"]}}
          }
        },
        {
          "data": {"name": "botRoman"},
          "mark": {"type": "text", "font": "Liberation Serif", "fontSize": 24, "align": "left", "baseline": "alphabetic"},
          "encoding": {
            "x": {"field": "x", "type": "quantitative", "axis": null},
            "y": {"field": "y", "type": "quantitative", "axis": null},
            "text": {"field": "t"},
            "color": {"field": "c", "type": "nominal", "legend": null,
                      "scale": {"domain": ["F", "Fphot", "acc", "cont", "Fc"], "range": ["#0000ff", "#000000", "#ff0000", "#808080", "#00ffff"]}}
          }
        },
        {
          "data": {"name": "botSmallItalic"},
          "mark": {"type": "text", "font": "Liberation Serif", "fontStyle": "italic", "fontSize": 17, "align": "left", "baseline": "alphabetic"},
          "encoding": {
            "x": {"field": "x", "type": "quantitative", "axis": null},
            "y": {"field": "y", "type": "quantitative", "axis": null},
            "text": {"field": "t"},
            "color": {"field": "c", "type": "nominal", "legend": null,
                      "scale": {"domain": ["F", "Fphot", "acc", "cont", "Fc"], "range": ["#0000ff", "#000000", "#ff0000", "#808080", "#00ffff"]}}
          }
        },
        {
          "data": {"name": "botSmallRoman"},
          "mark": {"type": "text", "font": "Liberation Serif", "fontSize": 17, "align": "left", "baseline": "alphabetic"},
          "encoding": {
            "x": {"field": "x", "type": "quantitative", "axis": null},
            "y": {"field": "y", "type": "quantitative", "axis": null},
            "text": {"field": "t"},
            "color": {"field": "c", "type": "nominal", "legend": null,
                      "scale": {"domain": ["F", "Fphot", "acc", "cont", "Fc"], "range": ["#0000ff", "#000000", "#ff0000", "#808080", "#00ffff"]}}
          }
        },
        {
          "data": {"name": "botTinyItalic"},
          "mark": {"type": "text", "font": "Liberation Serif", "fontStyle": "italic", "fontSize": 12, "align": "left", "baseline": "alphabetic"},
          "encoding": {
            "x": {"field": "x", "type": "quantitative", "axis": null},
            "y": {"field": "y", "type": "quantitative", "axis": null},
            "text": {"field": "t"},
            "color": {"field": "c", "type": "nominal", "legend": null,
                      "scale": {"domain": ["F", "Fphot", "acc", "cont", "Fc"], "range": ["#0000ff", "#000000", "#ff0000", "#808080", "#00ffff"]}}
          }
        },
        {
          "data": {"name": "botTinyRoman"},
          "mark": {"type": "text", "font": "Liberation Serif", "fontSize": 12, "align": "left", "baseline": "alphabetic"},
          "encoding": {
            "x": {"field": "x", "type": "quantitative", "axis": null},
            "y": {"field": "y", "type": "quantitative", "axis": null},
            "text": {"field": "t"},
            "color": {"field": "c", "type": "nominal", "legend": null,
                      "scale": {"domain": ["F", "Fphot", "acc", "cont", "Fc"], "range": ["#0000ff", "#000000", "#ff0000", "#808080", "#00ffff"]}}
          }
        }
      ]
    }
  ]
}
